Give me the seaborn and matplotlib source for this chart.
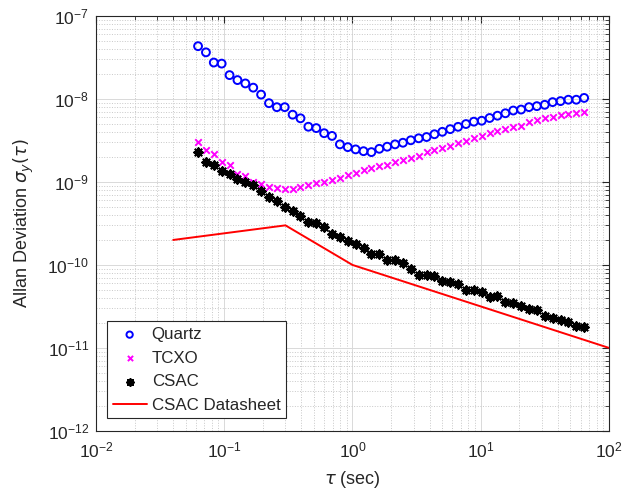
import numpy as np
import pandas as pd
import matplotlib
matplotlib.use('Agg')
import matplotlib.pyplot as plt
import seaborn as sns

# --- Datos ---
tau = [0.0625, 0.0720, 0.0829, 0.0955, 0.1100, 0.1268, 0.1461, 0.1683, 0.1938, 0.2233,
       0.2572, 0.2963, 0.3413, 0.3932, 0.4529, 0.5218, 0.6010, 0.6924, 0.7976, 0.9188,
       1.058, 1.219, 1.404, 1.618, 1.864, 2.147, 2.473, 2.849, 3.282, 3.780,
       4.355, 5.016, 5.779, 6.657, 7.669, 8.834, 10.18, 11.72, 13.50, 15.56,
       17.92, 20.64, 23.78, 27.39, 31.55, 36.35, 41.87, 48.23, 55.56, 64.0]

quartz = [4.33e-8, 3.65e-8, 2.75e-8, 2.67e-8, 1.94e-8, 1.69e-8, 1.54e-8, 1.37e-8, 1.13e-8, 8.9e-9,
          7.97e-9, 7.97e-9, 6.47e-9, 5.85e-9, 4.63e-9, 4.46e-9, 3.87e-9, 3.59e-9, 2.84e-9, 2.63e-9,
          2.47e-9, 2.35e-9, 2.29e-9, 2.51e-9, 2.66e-9, 2.84e-9, 2.97e-9, 3.18e-9, 3.36e-9, 3.48e-9,
          3.76e-9, 4.02e-9, 4.33e-9, 4.62e-9, 4.99e-9, 5.33e-9, 5.47e-9, 5.90e-9, 6.29e-9, 6.73e-9,
          7.26e-9, 7.46e-9, 7.98e-9, 8.2e-9, 8.51e-9, 9.17e-9, 9.43e-9, 9.8e-9, 9.8e-9, 1.03e-8]

tcxo = [3.04e-9, 2.41e-9, 2.19e-9, 1.74e-9, 1.58e-9, 1.25e-9, 1.17e-9, 1.01e-9, 9.5e-10, 8.67e-10,
        8.43e-10, 8.34e-10, 8.34e-10, 8.67e-10, 9.07e-10, 9.7e-10, 9.97e-10, 1.06e-9, 1.13e-9, 1.21e-9,
        1.28e-9, 1.38e-9, 1.47e-9, 1.54e-9, 1.62e-9, 1.72e-9, 1.86e-9, 1.95e-9, 2.07e-9, 2.28e-9,
        2.45e-9, 2.57e-9, 2.74e-9, 2.96e-9, 3.15e-9, 3.40e-9, 3.62e-9, 3.91e-9, 4.09e-9, 4.37e-9,
        4.57e-9, 4.79e-9, 5.31e-9, 5.56e-9, 5.82e-9, 6.11e-9, 6.33e-9, 6.64e-9, 6.83e-9, 7.02e-9]

csac = [2.32e-9, 1.76e-9, 1.60e-9, 1.37e-9, 1.25e-9, 1.09e-9, 9.9e-10, 9.2e-10, 7.8e-10, 6.65e-10,
        5.96e-10, 4.95e-10, 4.51e-10, 3.89e-10, 3.32e-10, 3.18e-10, 2.89e-10, 2.36e-10, 2.15e-10, 1.93e-10,
        1.79e-10, 1.62e-10, 1.35e-10, 1.35e-10, 1.15e-10, 1.15e-10, 1.05e-10, 8.87e-11, 7.58e-11, 7.58e-11,
        7.37e-11, 6.41e-11, 6.30e-11, 5.85e-11, 5.0e-11, 5.0e-11, 4.69e-11, 4.15e-11, 4.23e-11, 3.61e-11,
        3.45e-11, 3.21e-11, 2.95e-11, 2.87e-11, 2.43e-11, 2.28e-11, 2.17e-11, 2.04e-11, 1.84e-11, 1.81e-11]

tau_ds = [0.04, 0.3, 1.0, 100.0]
adev_ds = [2e-10, 3e-10, 1e-10, 1e-11]

df = pd.DataFrame({'tau': tau, 'Quartz': quartz, 'TCXO': tcxo, 'CSAC': csac})
df_ds = pd.DataFrame({'tau': tau_ds, 'adev': adev_ds})

# --- Estilo ---
sns.set_style('white')
plt.rcParams['font.family'] = ['Liberation Sans', 'DejaVu Sans']
plt.rcParams['mathtext.fontset'] = 'dejavusans'

fig = plt.figure(figsize=(6.42, 4.93), dpi=100)
ax = fig.add_axes([0.1495, 0.126, 0.7991, 0.8415])

sns.scatterplot(data=df, x='tau', y='Quartz', ax=ax, marker='o', s=32,
                facecolors='none', edgecolor='blue', linewidth=1.4, label='Quartz')
sns.scatterplot(data=df, x='tau', y='TCXO', ax=ax, marker='x', s=22,
                color='magenta', linewidth=1.4, label='TCXO')
sns.scatterplot(data=df, x='tau', y='CSAC', ax=ax, marker=(8, 2, 0), s=36,
                color='black', linewidth=1.5, label='CSAC')
sns.lineplot(data=df_ds, x='tau', y='adev', ax=ax, color='red', linewidth=1.4,
             label='CSAC Datasheet', sort=False)

ax.set_xscale('log')
ax.set_yscale('log')
ax.set_xlim(1e-2, 1e2)
ax.set_ylim(1e-12, 1e-7)

ax.grid(True, which='major', color='#d9d9d9', linestyle='-', linewidth=0.7)
ax.grid(True, which='minor', color='#c8c8c8', linestyle=':', linewidth=0.7)
ax.set_axisbelow(True)

ax.tick_params(which='both', direction='in', top=True, right=True, colors='#262626',
               labelcolor='#262626', labelsize=12.5)
ax.tick_params(which='major', length=5)
ax.tick_params(which='minor', length=3)
ax.tick_params(axis='x', which='major', pad=7)
ax.tick_params(axis='y', which='major', pad=5)
for sp in ax.spines.values():
    sp.set_color('#262626')
    sp.set_linewidth(0.8)

ax.set_xlabel(r'$\tau$ (sec)', fontsize=13, color='#262626', labelpad=6)
ax.set_ylabel(r'Allan Deviation $\sigma_y(\tau)$', fontsize=13, color='#262626', labelpad=8)

leg = ax.legend(loc='lower left', bbox_to_anchor=(0.021, 0.03), borderaxespad=0,
                fancybox=False, edgecolor='#262626', framealpha=1, fontsize=12.2,
                handlelength=2.0, handletextpad=0.3, borderpad=0.35, labelspacing=0.5,
                markerscale=0.8)
leg.get_frame().set_linewidth(0.8)

fig.savefig('out.png', dpi=100)
